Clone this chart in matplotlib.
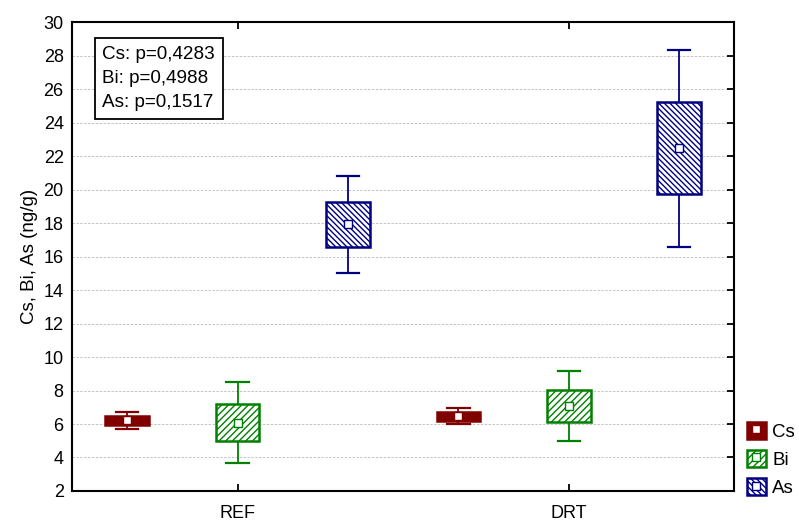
import matplotlib
matplotlib.use("Agg")
import matplotlib.pyplot as plt
from matplotlib.patches import Patch
from matplotlib.lines import Line2D

plt.rcParams["font.family"] = ["Liberation Sans", "DejaVu Sans"]
plt.rcParams["hatch.linewidth"] = 1.0

# groups on the x axis and the three elements measured in each
groups = ["REF", "DRT"]
elements = ["Cs", "Bi", "As"]

# mean, box (mean +/- SE) and whiskers (mean +/- SD), one value per group
means = {"Cs": [6.22, 6.46], "Bi": [6.05, 7.07], "As": [17.92, 22.48]}
box_lo = {"Cs": [5.95, 6.20], "Bi": [4.99, 6.12], "As": [16.55, 19.71]}
box_hi = {"Cs": [6.48, 6.70], "Bi": [7.18, 8.05], "As": [19.24, 25.20]}
whisk_lo = {"Cs": [5.73, 6.00], "Bi": [3.65, 5.00], "As": [15.03, 16.55]}
whisk_hi = {"Cs": [6.72, 6.94], "Bi": [8.49, 9.18], "As": [20.81, 28.31]}

pvalues = ["Cs: p=0,4283", "Bi: p=0,4988", "As: p=0,1517"]

colors = {"Cs": "#800000", "Bi": "#008000", "As": "#000080"}
hatches = {"Cs": None, "Bi": "/////", "As": "\\\\\\\\\\\\"}
offsets = {"Cs": -1 / 3, "Bi": 0.0, "As": 1 / 3}

fig = plt.figure(figsize=(7.99, 5.21), dpi=100)
ax = fig.add_axes([0.0901, 0.0576, 0.829, 0.900])

for el in elements:
    stats = []
    for i in range(len(groups)):
        stats.append({
            "med": means[el][i], "mean": means[el][i],
            "q1": box_lo[el][i], "q3": box_hi[el][i],
            "whislo": whisk_lo[el][i], "whishi": whisk_hi[el][i],
            "fliers": [],
        })
    c = colors[el]
    pos = [i + offsets[el] for i in range(len(groups))]
    bp = ax.bxp(stats, positions=pos, widths=0.132, capwidths=0.068,
                showmeans=True, patch_artist=True, manage_ticks=False,
                boxprops=dict(facecolor=c if el == "Cs" else "white",
                              edgecolor=c, linewidth=1.8),
                whiskerprops=dict(color=c, linewidth=1.3),
                capprops=dict(color=c, linewidth=1.6),
                medianprops=dict(linewidth=0),
                meanprops=dict(marker="s", markersize=6,
                               markerfacecolor="white",
                               markeredgecolor=c, markeredgewidth=1.0))
    for box in bp["boxes"]:
        if hatches[el]:
            box.set_hatch(hatches[el])
        box.set_zorder(3)
    for m in bp["means"]:
        m.set_zorder(4)

ax.set_xlim(-0.5, 1.5)
ax.set_ylim(2, 30)
ax.set_yticks(range(2, 31, 2))
ax.set_xticks(range(len(groups)))
ax.set_xticklabels(groups)

ax.yaxis.grid(True, color="#c4c4c4", linestyle=(0, (2.5, 1.5)), linewidth=0.7)
ax.set_axisbelow(True)
for sp in ax.spines.values():
    sp.set_linewidth(1.5)

ax.tick_params(axis="y", left=False, right=True, direction="in",
               length=5, width=1.3, labelsize=13, pad=6)
ax.tick_params(axis="x", top=True, direction="in", length=5, width=1.3,
               labelsize=13, pad=10)
ax.set_ylabel("Cs, Bi, As (ng/g)", fontsize=13.5, labelpad=4)

ax.text(0.046, 0.949, "\n".join(pvalues), transform=ax.transAxes,
        fontsize=13.6, va="top", ha="left", linespacing=1.55,
        bbox=dict(boxstyle="square,pad=0.4", facecolor="white",
                  edgecolor="black", linewidth=1.3))

handles = []
for el in elements:
    c = colors[el]
    p = Patch(facecolor=c if el == "Cs" else "white", edgecolor=c,
              linewidth=1.8, hatch=hatches[el])
    m = Line2D([], [], linestyle="none", marker="s", markersize=6,
               markerfacecolor="white", markeredgecolor=c)
    handles.append((p, m))

fig.legend(handles, elements, loc="lower left",
           bbox_to_anchor=(747 / 799, 24 / 521), frameon=False,
           fontsize=13.5, handlelength=1.0, handleheight=1.0,
           handletextpad=0.35, labelspacing=0.5, borderpad=0,
           borderaxespad=0)

fig.savefig("out.png", dpi=100)
